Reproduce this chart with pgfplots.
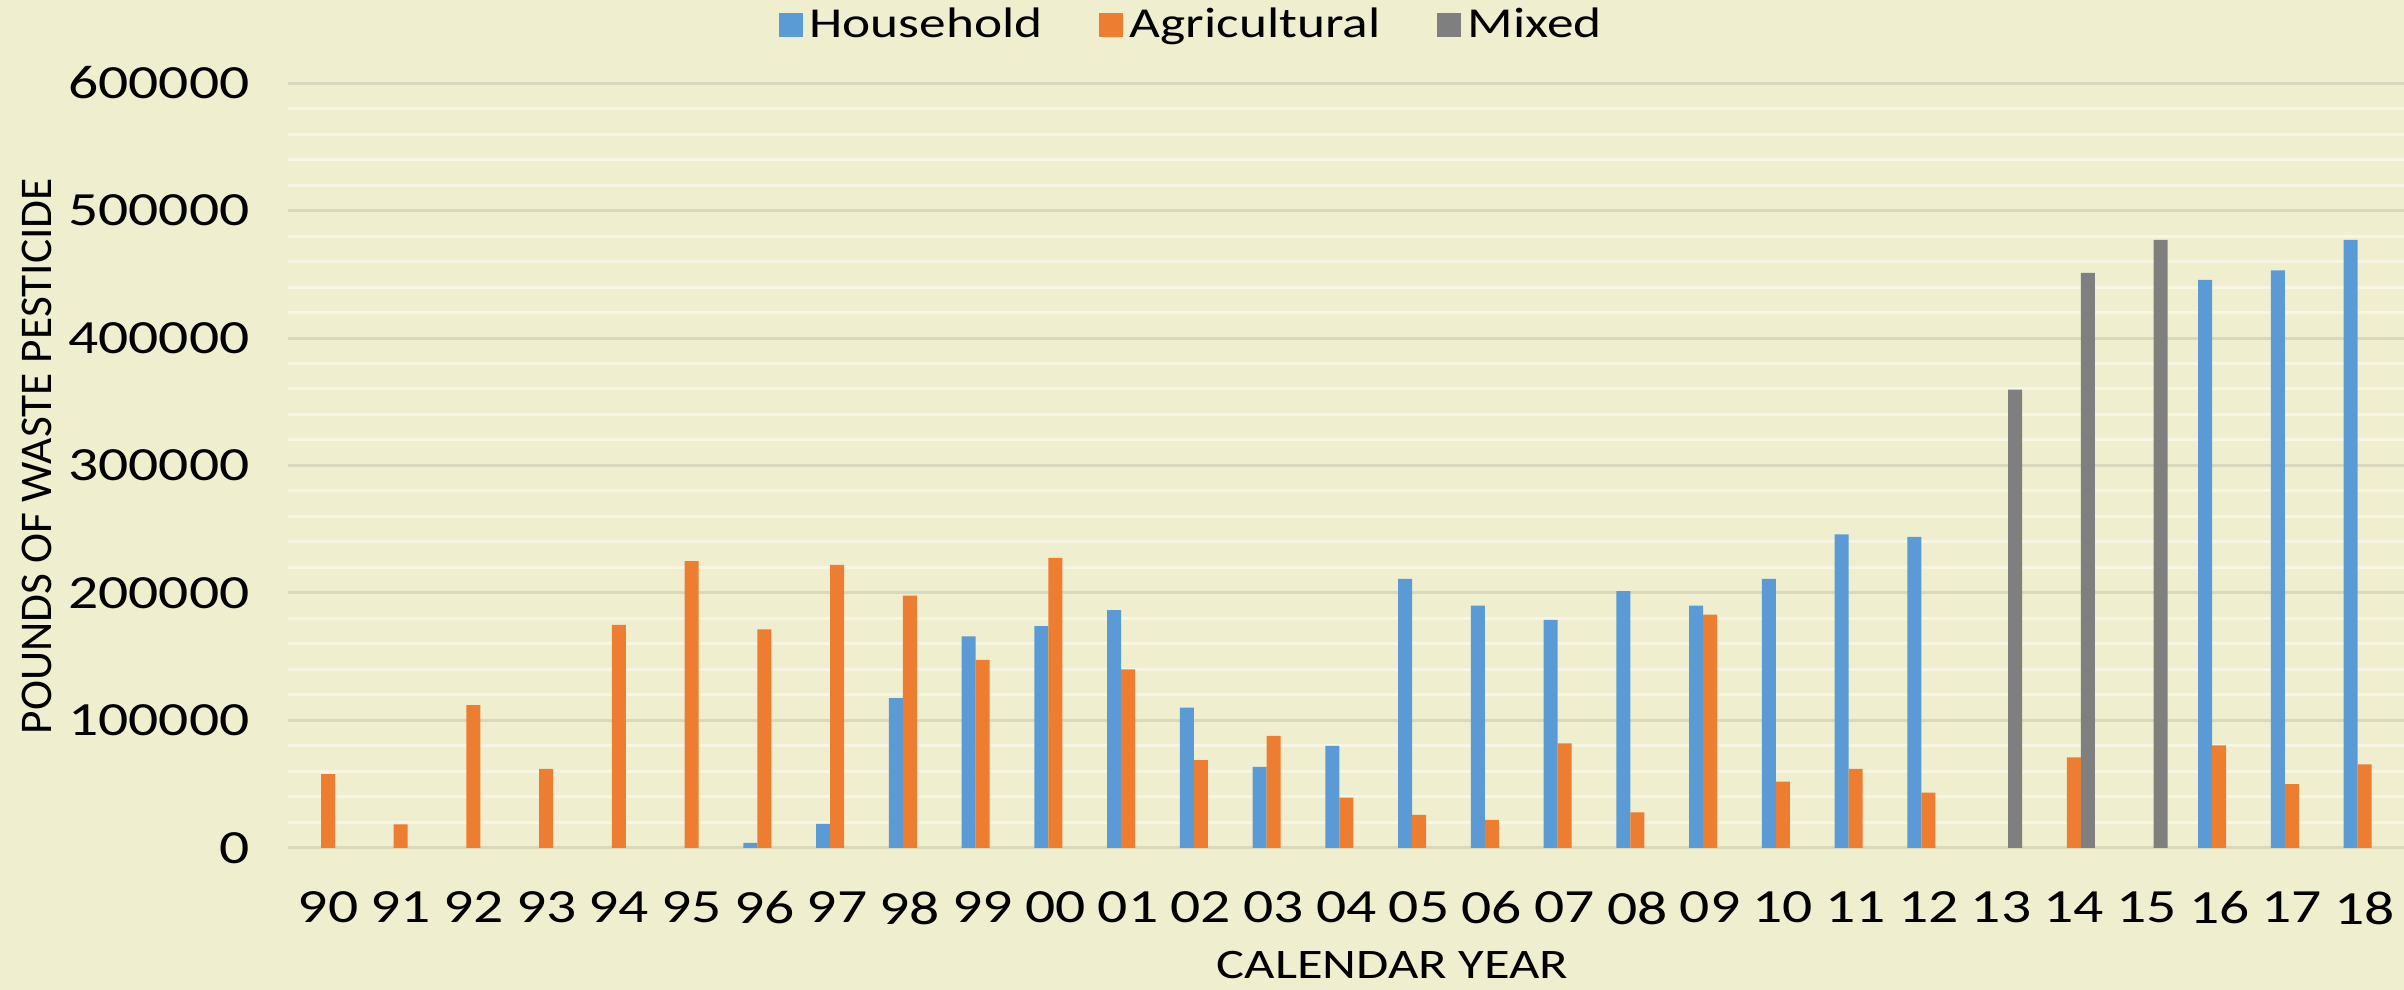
\documentclass[border=0pt]{standalone}
\usepackage{fontspec}
\setmainfont{Carlito}[FakeStretch=1.25]
\newfontfamily\plainfont{Carlito}
\usepackage{pgfplots}
\pgfplotsset{compat=1.18}
\definecolor{bgc}{RGB}{239,239,207}
\definecolor{majgrid}{RGB}{216,216,190}
\definecolor{mingrid}{RGB}{246,246,226}
\definecolor{hblue}{RGB}{91,155,213}
\definecolor{aorange}{RGB}{237,125,49}
\definecolor{mgray}{RGB}{127,127,127}
\begin{document}
\begin{tikzpicture}
\fill[bgc] (0,0) rectangle (721.2pt,297pt);
\begin{axis}[
  at={(86.4pt,42.6pt)}, anchor=south west,
  scale only axis, width=634.8pt, height=229.5pt,
  xmin=-0.55, xmax=28.54, ymin=0, ymax=600000,
  axis line style={draw=none},
  ybar, bar width=4.2pt,
  major tick length=0, minor tick length=0,
  xtick={0,...,28},
  xticklabels={90,91,92,93,94,95,96,97,98,99,00,01,02,03,04,05,06,07,08,09,10,11,12,13,14,15,16,17,18},
  ytick={0,100000,...,600000},
  minor y tick num=4,
  ymajorgrids, yminorgrids,
  major grid style={majgrid, line width=0.9pt},
  minor grid style={mingrid, line width=0.9pt},
  scaled y ticks=false,
  yticklabel style={font=\fontsize{14.3}{16}\selectfont, xshift=-8pt, /pgf/number format/.cd, fixed, 1000 sep={}, assume math mode=true},
  xticklabel style={font=\fontsize{14.3}{16}\selectfont, yshift=-9.6pt},
  xlabel={CALENDAR YEAR},
  xlabel style={at={(axis description cs:0.522,-0.1535)}, anchor=center, font=\fontsize{12.6}{14}\selectfont},
  ylabel={POUNDS OF WASTE PESTICIDE},
  ylabel style={at={(axis description cs:-0.1186,0.512)}, anchor=center, font=\plainfont\fontsize{13.6}{15}\selectfont},
  legend style={at={(axis description cs:0.428,1.076)}, anchor=center, draw=none, fill=none,
    legend columns=3, font=\fontsize{12.8}{14}\selectfont,
    /tikz/every even column/.append style={column sep=15pt}},
  legend image code/.code={\fill[#1] (0pt,-3.6pt) rectangle (7.2pt,3.6pt);},
]
\addplot[fill=hblue, draw=none, bar shift=-4.2pt] coordinates {
(6,4000) (7,19000) (8,117500) (9,166000) (10,174000) (11,186500) (12,110000)
(13,63700) (14,80000) (15,211000) (16,190000) (17,179000) (18,201500) (19,190000)
(20,211000) (21,246000) (22,244000) (26,445500) (27,453000) (28,477000)};
\addlegendentry{Household}
\addplot[fill=aorange, draw=none, bar shift=0pt] coordinates {
(0,58000) (1,18500) (2,112000) (3,62000) (4,175000) (5,225000) (6,171500)
(7,222000) (8,198000) (9,147500) (10,227500) (11,140000) (12,69000) (13,88000)
(14,39500) (15,26000) (16,22000) (17,82000) (18,28000) (19,183000) (20,52000)
(21,62000) (22,43500) (24,71000) (26,80500) (27,50000) (28,65500)};
\addlegendentry{Agricultural}
\addplot[fill=mgray, draw=none, bar shift=4.2pt] coordinates {
(23,359500) (24,451000) (25,477000)};
\addlegendentry{Mixed}
\end{axis}
\pgfresetboundingbox
\path[use as bounding box] (0,0) rectangle (721.2pt,297pt);
\end{tikzpicture}
\end{document}
